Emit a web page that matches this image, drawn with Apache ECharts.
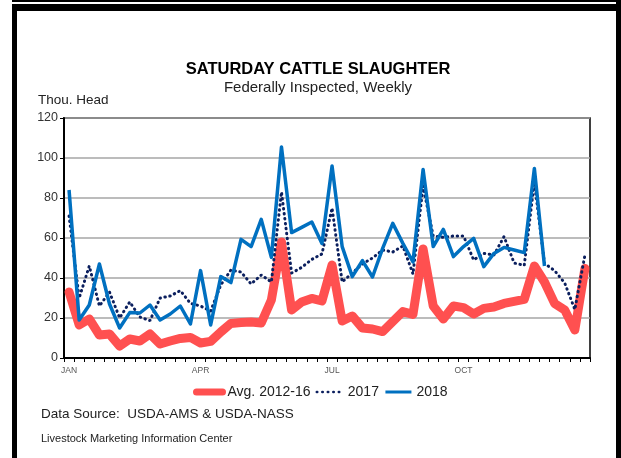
<!DOCTYPE html>
<html>
<head>
<meta charset="utf-8">
<title>Saturday Cattle Slaughter</title>
<script src="https://cdn.jsdelivr.net/npm/echarts@6/dist/echarts.min.js"></script>
<style>
  html, body { margin: 0; padding: 0; background: #fff; }
  #main { width: 621px; height: 458px; }
</style>
</head>
<body>
<div id="main"></div>
<script>
// 周数据 (千头) 52周
var weeks = Array.from({ length: 52 }, function (_, i) { return 'W' + (i + 1) });
// 月份刻度标签 (放在对应周)
var monthTicks = { 0: 'JAN', 13: 'APR', 26: 'JUL', 39: 'OCT' };

var avg2012_16 = [33, 16.5, 19.5, 11.5, 12, 6, 9.5, 8.5, 12, 7, 8.5, 9.8, 10.3, 7.5, 8.3, 13,
  17.3, 17.7, 18, 17.5, 29, 58, 24, 28, 29.8, 28.5, 46.5, 18.5, 21, 15, 14.5, 13.2, 18.2, 23.2,
  21.8, 54.5, 26, 19.5, 26, 25.2, 22, 24.8, 25.5, 27.3, 28.3, 29.3, 46, 38, 27.3, 24, 14, 44.8];

var y2017 = [71, 30, 46, 26, 33, 20, 28, 20.5, 18.7, 30, 31, 33.7, 27.3, 26, 23.5, 36.5, 44, 43,
  37, 41.5, 38, 83, 42.5, 45.3, 49.3, 52, 75, 38, 42.5, 47, 50, 54, 53, 56, 42, 86, 61, 60.3, 61,
  61, 49, 52.3, 51.5, 60.7, 47.5, 46.3, 88, 47.3, 43.7, 37.5, 24.3, 51.5];

var y2018 = [84, 19, 26.5, 47, 27, 15, 22.7, 22.5, 26.5, 19, 22, 26, 17, 43.7, 16.5, 40.7, 37.7,
  59.3, 55.7, 69.3, 50.3, 105.5, 62.7, 65.3, 68, 57.3, 96, 55.7, 40.7, 48.7, 40.5, 54.8, 67.3,
  57.3, 48, 94.3, 55.7, 64.3, 50.7, 55.7, 59.8, 45.7, 52.3, 55.3, 54, 52.7, 94.8, 46,
  null, null, null, null];

var yTicks = [0, 20, 40, 60, 80, 100, 120];

var font = "'Liberation Sans', Arial, sans-serif";
// 图例里不要圆点
var noDot = { color: 'rgba(0,0,0,0)', borderWidth: 0 };

var chart = echarts.init(document.getElementById('main'), null, { renderer: 'canvas' });

var option = {
  backgroundColor: '#fff',
  animation: false,
  title: {
    text: 'SATURDAY CATTLE SLAUGHTER',
    subtext: 'Federally Inspected, Weekly',
    left: 313,
    top: 56,
    textAlign: 'center',
    itemGap: 2,
    textStyle: { fontFamily: font, fontSize: 16.5, fontWeight: 'bold', color: '#000' },
    subtextStyle: { fontFamily: font, fontSize: 15, color: '#222' }
  },
  legend: {
    left: 188,
    top: 380,
    itemWidth: 26,
    itemHeight: 14,
    itemGap: 5,
    textStyle: { fontFamily: font, fontSize: 14, color: '#222' },
    data: [
      { name: 'Avg. 2012-16', itemStyle: noDot, lineStyle: { width: 7, cap: 'round' } },
      { name: '2017', itemStyle: noDot, lineStyle: { width: 2.5, type: [0.5, 5], cap: 'round' } },
      { name: '2018', itemStyle: noDot, lineStyle: { width: 3 } }
    ]
  },
  grid: {
    left: 64,
    right: 31,
    top: 118,
    bottom: 100,
    show: true,
    borderColor: '#000',
    borderWidth: 1.5
  },
  xAxis: {
    type: 'category',
    data: weeks,
    boundaryGap: true,
    axisLine: { lineStyle: { color: '#000', width: 2 } },
    axisTick: { show: true, interval: 0, length: 4, lineStyle: { color: '#000', width: 1 } },
    axisLabel: {
      interval: function (i) { return monthTicks[i] != null },
      formatter: function (v, i) { return monthTicks[i] || '' },
      fontFamily: font,
      fontSize: 8.5,
      color: '#555',
      margin: 8
    },
    splitLine: { show: false }
  },
  yAxis: {
    type: 'value',
    min: yTicks[0],
    max: yTicks[yTicks.length - 1],
    interval: 20,
    axisLine: { show: true, lineStyle: { color: '#000', width: 2 } },
    axisTick: { show: true, length: 4, lineStyle: { color: '#000' } },
    axisLabel: { fontFamily: font, fontSize: 12.5, color: '#333', margin: 6 },
    splitLine: { lineStyle: { color: '#A6A6A6', width: 1.5 } }
  },
  series: [
    {
      name: 'Avg. 2012-16',
      type: 'line',
      data: avg2012_16,
      showSymbol: false,
      symbol: 'none',
      lineStyle: { color: '#FF5050', width: 9, cap: 'round', join: 'round' },
      itemStyle: { color: '#FF5050' },
      z: 2
    },
    {
      name: '2017',
      type: 'line',
      data: y2017,
      showSymbol: false,
      symbol: 'none',
      lineStyle: { color: '#0B1F5E', width: 3, type: [0.5, 4.5], cap: 'round' },
      itemStyle: { color: '#0B1F5E' },
      z: 3
    },
    {
      name: '2018',
      type: 'line',
      data: y2018,
      showSymbol: false,
      symbol: 'none',
      lineStyle: { color: '#0070C0', width: 3.5, join: 'round' },
      itemStyle: { color: '#0070C0' },
      z: 4
    }
  ],
  graphic: [
    // 外框
    { type: 'rect', shape: { x: 12, y: 0, width: 609, height: 2 }, style: { fill: '#000' } },
    { type: 'rect', shape: { x: 12, y: 4, width: 609, height: 7 }, style: { fill: '#000' } },
    { type: 'rect', shape: { x: 12, y: 4, width: 5, height: 454 }, style: { fill: '#000' } },
    { type: 'rect', shape: { x: 616, y: 0, width: 5, height: 458 }, style: { fill: '#000' } },
    // 单位
    {
      type: 'text', left: 38, top: 93,
      style: { text: 'Thou. Head', fontFamily: font, fontSize: 13.5, fill: '#222' }
    },
    {
      type: 'text', left: 41, top: 407,
      style: { text: 'Data Source:  USDA-AMS & USDA-NASS', fontFamily: font, fontSize: 13.5, fill: '#222' }
    },
    {
      type: 'text', left: 41, top: 433,
      style: { text: 'Livestock Marketing Information Center', fontFamily: font, fontSize: 11, fill: '#222' }
    }
  ]
};

chart.setOption(option);
</script>
</body>
</html>
